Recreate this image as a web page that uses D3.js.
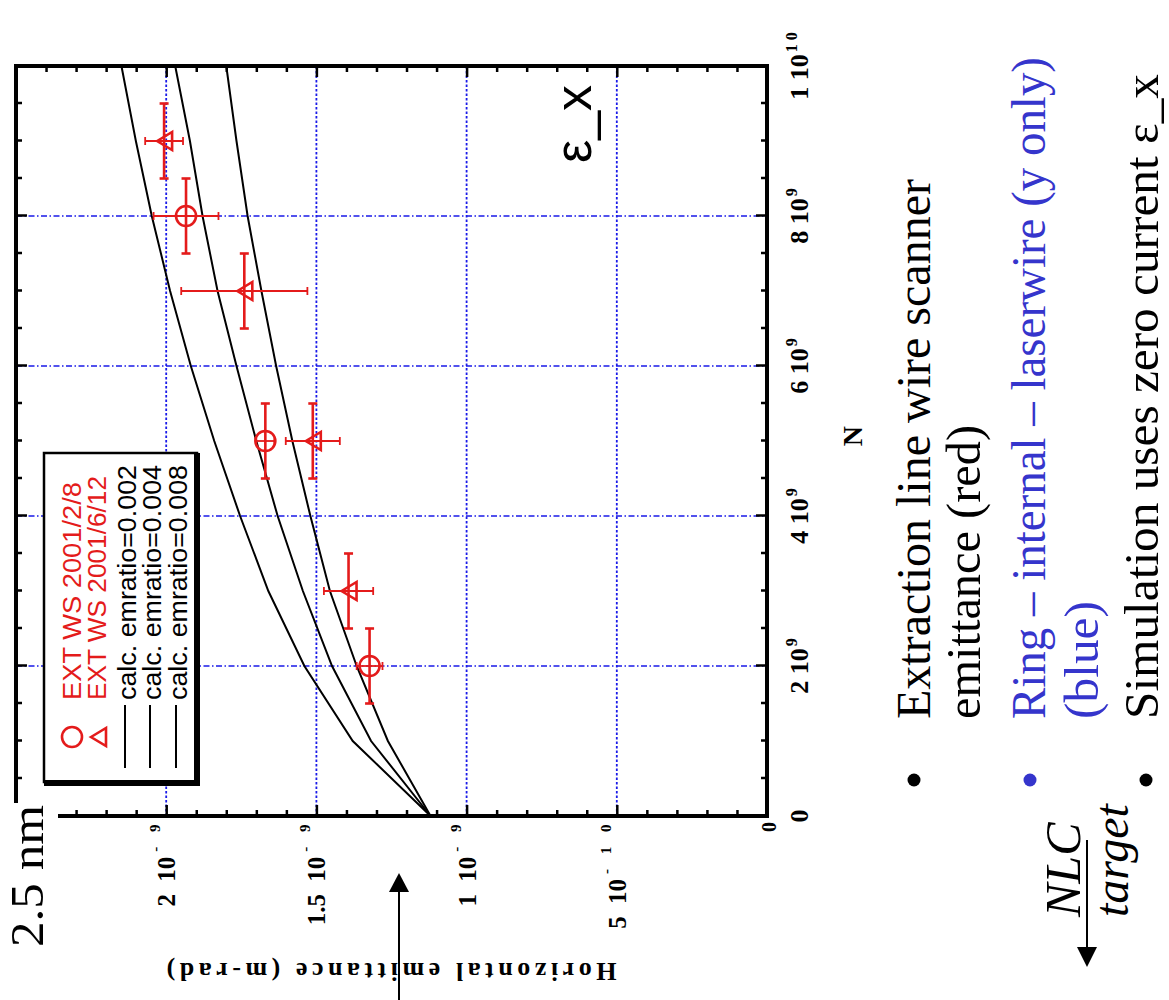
<!DOCTYPE html>
<html><head><meta charset="utf-8">
<script src="https://cdn.jsdelivr.net/npm/d3@7"></script>
<style>body{margin:0;background:#fff}svg{display:block}</style>
</head><body>
<svg id="c" width="1169" height="1000"></svg>
<script>
// ---------------- data ----------------
const calcN   = [0,1e9,2e9,3e9,4e9,5e9,6e9,7e9,8e9,9e9,1e10];
const calc002 = [1.12e-9,1.379e-9,1.54e-9,1.66e-9,1.754e-9,1.84e-9,1.918e-9,1.987e-9,2.048e-9,2.101e-9,2.149e-9];
const calc004 = [1.12e-9,1.318e-9,1.448e-9,1.545e-9,1.629e-9,1.70e-9,1.766e-9,1.829e-9,1.879e-9,1.921e-9,1.97e-9];
const calc008 = [1.12e-9,1.262e-9,1.366e-9,1.455e-9,1.52e-9,1.58e-9,1.634e-9,1.683e-9,1.729e-9,1.766e-9,1.80e-9];

const ws0208N       = [2e9,5e9,8e9];
const ws0208Emit    = [1.323e-9,1.67e-9,1.934e-9];
const ws0208NErr    = [0.5e9,0.5e9,0.5e9];
const ws0208EmitErr = [0.043e-9,0.03e-9,0.108e-9];

const ws0612N       = [3e9,5e9,7e9,9e9];
const ws0612Emit    = [1.393e-9,1.512e-9,1.74e-9,2.007e-9];
const ws0612NErr    = [0.5e9,0.5e9,0.5e9,0.5e9];
const ws0612EmitErr = [0.082e-9,0.09e-9,0.21e-9,0.063e-9];

const nMajorTicks   = [0,2e9,4e9,6e9,8e9,1e10];
const nTickMain     = ["0","2 10","4 10","6 10","8 10","1 10"];
const nTickSup      = ["","9","9","9","9","1 0"];
const nGridValues   = [2e9,4e9,6e9,8e9];
const emitMajorTicks= [0,5e-10,1e-9,1.5e-9,2e-9];
const emitTickMain  = ["0","5 10","1 10","1.5 10","2 10"];
const emitTickSup   = ["","- 1 0","- 9","- 9","- 9"];
const emitGridValues= [5e-10,1e-9,1.5e-9,2e-9];

const legendLabels = ["EXT WS 2001/2/8","EXT WS 2001/6/12","calc. emratio=0.002","calc. emratio=0.004","calc. emratio=0.008"];
const bulletLines = [
  {text:"Extraction line wire scanner", color:"#000"},
  {text:"emittance (red)", color:"#000"},
  {text:"Ring \u2013 internal \u2013 laserwire (y only)", color:"#3535cc"},
  {text:"(blue)", color:"#3535cc"},
  {text:"Simulation uses zero current \u03b5_x", color:"#000"}
];
const bulletColors = ["#000","#3535cc","#000"];

// ---------------- drawing ----------------
const SERIF = "'Liberation Serif','Times New Roman',serif";
const SANS  = "'Liberation Sans',Arial,sans-serif";
const RED = "#e41b1b";
const svg = d3.select("#c");
svg.append("rect").attr("width",1169).attr("height",1000).attr("fill","#fff");
// whole slide is rotated 90deg counter-clockwise
const slide = svg.append("g").attr("transform","translate(0,1000) rotate(-90)");

const x = d3.scaleLinear().domain([0,1e10]).range([184,934]);
const y = d3.scaleLinear().domain([0,2.5e-9]).range([767,16]);

// grid
slide.append("g").selectAll("line").data(nGridValues).join("line")
  .attr("x1",d=>x(d)).attr("x2",d=>x(d)).attr("y1",y.range()[1]).attr("y2",y.range()[0])
  .attr("stroke","#1a1ae8").attr("stroke-width",1.6).attr("stroke-dasharray","6,2.5,1.5,2.5");
slide.append("g").selectAll("line").data(emitGridValues).join("line")
  .attr("y1",d=>y(d)).attr("y2",d=>y(d)).attr("x1",x.range()[0]).attr("x2",x.range()[1])
  .attr("stroke","#1a1ae8").attr("stroke-width",1.8).attr("stroke-dasharray","2.5,2");

// ticks (inside)
const nMinor = d3.range(0,1e10+1,5e8).filter(v=>!nMajorTicks.includes(v));
const eMinor = d3.range(0,25).map(i=>i*1e-10).filter(v=>!emitMajorTicks.some(m=>Math.abs(m-v)<1e-13));
const axes = slide.append("g");
function addAxis(gen, tr, vals, size){
  const g = axes.append("g").attr("transform",tr)
    .call(gen.tickValues(vals).tickSize(-size).tickFormat(""));
  g.select(".domain").remove();
  g.selectAll(".tick line").attr("stroke","#000").attr("stroke-width",2.5);
}
addAxis(d3.axisBottom(x),`translate(0,${y(0)})`,nMajorTicks,11);
addAxis(d3.axisBottom(x),`translate(0,${y(0)})`,nMinor,6);
addAxis(d3.axisTop(x),`translate(0,${y(2.5e-9)})`,nMajorTicks,11);
addAxis(d3.axisTop(x),`translate(0,${y(2.5e-9)})`,nMinor,6);
addAxis(d3.axisLeft(y),`translate(${x(0)},0)`,emitMajorTicks,11);
addAxis(d3.axisLeft(y),`translate(${x(0)},0)`,eMinor,6);
addAxis(d3.axisRight(y),`translate(${x(1e10)},0)`,emitMajorTicks,11);
addAxis(d3.axisRight(y),`translate(${x(1e10)},0)`,eMinor,6);

// frame
slide.append("rect").attr("x",x(0)).attr("y",y(2.5e-9)).attr("width",x(1e10)-x(0)).attr("height",y(0)-y(2.5e-9))
  .attr("fill","none").attr("stroke","#000").attr("stroke-width",4);

// tick labels
const xl = slide.append("g").attr("font-family",SERIF).attr("font-weight","bold");
nMajorTicks.forEach((v,i)=>{
  const t = xl.append("text").attr("x",x(v)).attr("y",808).attr("text-anchor","middle")
    .attr("xml:space","preserve").attr("font-size",26);
  t.append("tspan").text(nTickMain[i]);
  if(nTickSup[i]) t.append("tspan").attr("font-size",16).attr("dy",-11).attr("dx",2).text(nTickSup[i]);
});
emitMajorTicks.forEach((v,i)=>{
  const t = xl.append("text").attr("x",178).attr("y",y(v)+9).attr("text-anchor","end")
    .attr("xml:space","preserve").attr("font-size",v===0?20:25).attr("word-spacing",6);
  t.append("tspan").text(emitTickMain[i]);
  if(emitTickSup[i]) t.append("tspan").attr("font-size",15).attr("dy",-15).attr("dx",5)
    .attr("letter-spacing",2.5).text(emitTickSup[i]);
});

// axis titles
slide.append("text").attr("x",x(5e9)+5).attr("y",862).attr("text-anchor","middle")
  .attr("font-family",SERIF).attr("font-weight","bold").attr("font-size",28).text("N");
slide.append("text").attr("transform",`translate(37,${y(1.25e-9)}) rotate(-90)`).attr("text-anchor","middle")
  .attr("font-family",SERIF).attr("font-weight","bold").attr("font-size",26)
  .attr("textLength",450).attr("lengthAdjust","spacing").text("Horizontal emittance (m-rad)");

// calc curves
const line = d3.line().x(d=>x(d[0])).y(d=>y(d[1]));
[calc002,calc004,calc008].forEach(arr=>{
  slide.append("path").datum(calcN.map((n,i)=>[n,arr[i]])).attr("d",line)
    .attr("fill","none").attr("stroke","#000").attr("stroke-width",2);
});

// data with error bars
function drawSeries(N,E,NE,EE,marker){
  const g = slide.append("g").attr("stroke",RED).attr("fill","none");
  N.forEach((n,i)=>{
    const cx=x(n), cy=y(E[i]);
    g.append("line").attr("x1",x(n-NE[i])).attr("x2",x(n+NE[i])).attr("y1",cy).attr("y2",cy).attr("stroke-width",2.6);
    [n-NE[i],n+NE[i]].forEach(v=>g.append("line").attr("x1",x(v)).attr("x2",x(v)).attr("y1",cy-4.5).attr("y2",cy+4.5).attr("stroke-width",2.6));
    g.append("line").attr("x1",cx).attr("x2",cx).attr("y1",y(E[i]-EE[i])).attr("y2",y(E[i]+EE[i])).attr("stroke-width",1.8);
    [E[i]-EE[i],E[i]+EE[i]].forEach(v=>g.append("line").attr("x1",cx-4).attr("x2",cx+4).attr("y1",y(v)).attr("y2",y(v)).attr("stroke-width",1.8));
    marker(g,cx,cy);
  });
}
const circleMarker=(g,cx,cy)=>g.append("circle").attr("cx",cx).attr("cy",cy).attr("r",10).attr("stroke-width",2.6);
const triMarker=(g,cx,cy)=>g.append("path").attr("d",`M${cx},${cy-7}L${cx+9},${cy+8}L${cx-9},${cy+8}Z`).attr("stroke-width",2.6);
drawSeries(ws0208N,ws0208Emit,ws0208NErr,ws0208EmitErr,circleMarker);
drawSeries(ws0612N,ws0612Emit,ws0612NErr,ws0612EmitErr,triMarker);

// legend
const leg = slide.append("g");
leg.append("rect").attr("x",218).attr("y",44).attr("width",329).attr("height",153).attr("fill","#fff").attr("stroke","#000").attr("stroke-width",2.5);
leg.append("rect").attr("x",218).attr("y",194).attr("width",329).attr("height",6).attr("fill","#000");
leg.append("rect").attr("x",214).attr("y",44).attr("width",6).attr("height",156).attr("fill","#000");
const legRows=[72,97,125,150,176], legBase=[81,106,136,161,187], legLen=[218,224,235,235,235];
circleMarker(leg.append("g").attr("stroke",RED).attr("fill","none"),263,legRows[0]);
triMarker(leg.append("g").attr("stroke",RED).attr("fill","none"),263,legRows[1]+1);
[2,3,4].forEach(i=>leg.append("line").attr("x1",232).attr("x2",295).attr("y1",legRows[i]).attr("y2",legRows[i]).attr("stroke","#000").attr("stroke-width",2));
legendLabels.forEach((s,i)=>{
  leg.append("text").attr("x",300).attr("y",legBase[i]).attr("font-family",SANS).attr("font-size",26)
    .attr("fill",i<2?RED:"#000").attr("textLength",legLen[i]).attr("lengthAdjust","spacingAndGlyphs").text(s);
});

// epsilon label in plot
slide.append("text").attr("x",837).attr("y",591).attr("font-family",SANS).attr("font-size",52).text("\u03b5_x");

// 2.5 nm label with white box + arrow
slide.append("rect").attr("x",48).attr("y",0).attr("width",149).attr("height",58).attr("fill","#fff");
slide.append("text").attr("x",53).attr("y",43).attr("font-family",SERIF).attr("font-size",46)
  .attr("textLength",142).attr("lengthAdjust","spacingAndGlyphs").text("2.5 nm");
slide.append("line").attr("x1",0).attr("x2",110).attr("y1",399).attr("y2",399).attr("stroke","#000").attr("stroke-width",2);
slide.append("path").attr("d","M127,399L108,389L108,409Z").attr("fill","#000");

// bullets
const bulletY=[914,1030,1146];
bulletY.forEach((by,i)=>slide.append("circle").attr("cx",220).attr("cy",by).attr("r",6.5).attr("fill",bulletColors[i]));
const baseY=[930,980,1045,1098,1158];
const lineLen=[540,294,662,118,645];
bulletLines.forEach((b,i)=>{
  slide.append("text").attr("x",281).attr("y",baseY[i]).attr("font-family",SERIF).attr("font-size",48)
    .attr("fill",b.color).attr("textLength",lineLen[i]).attr("lengthAdjust","spacingAndGlyphs").text(b.text);
});

// NLC target
slide.append("text").attr("x",83).attr("y",1080).attr("font-family",SERIF).attr("font-style","italic").attr("font-size",50).text("NLC");
slide.append("text").attr("x",83).attr("y",1128).attr("font-family",SERIF).attr("font-style","italic").attr("font-size",48).text("target");
slide.append("line").attr("x1",160).attr("x2",50).attr("y1",1087).attr("y2",1087).attr("stroke","#000").attr("stroke-width",2);
slide.append("path").attr("d","M33,1087L53,1077L53,1097Z").attr("fill","#000");
</script>
</body></html>
